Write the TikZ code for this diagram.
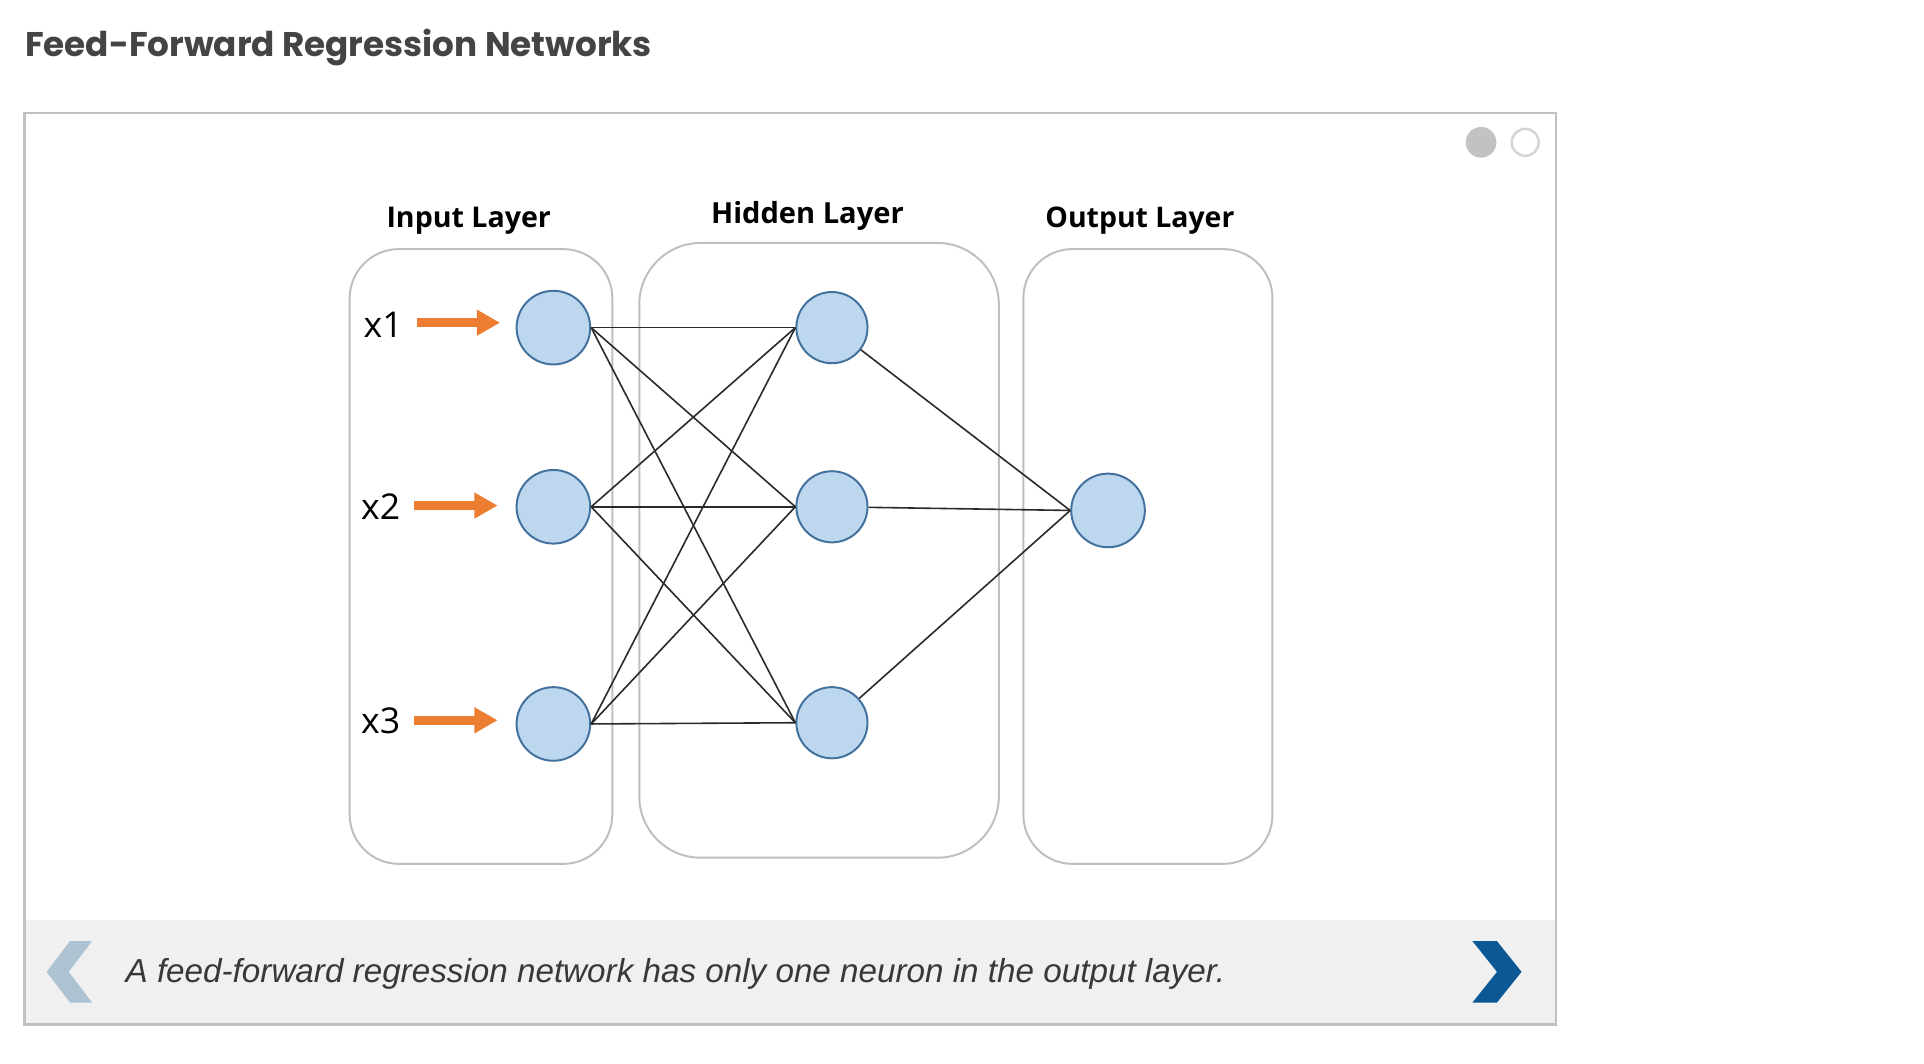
\documentclass[tikz,border=0pt]{standalone}
\usepackage{graphicx}
\usepackage{fontspec}
\setmainfont{Liberation Sans}
\newfontfamily\titlefont{Poppins}
\newfontfamily\labelfont{Open Sans}
\usetikzlibrary{arrows.meta}
\definecolor{titlegray}{HTML}{444444}
\definecolor{framegray}{HTML}{C0C0C0}
\definecolor{bargray}{HTML}{F0F0F0}
\definecolor{boxgray}{HTML}{BFBFBF}
\definecolor{nodefill}{HTML}{BDD7EE}
\definecolor{nodeedge}{HTML}{41719C}
\definecolor{arroworange}{HTML}{ED7D31}
\definecolor{linkgray}{HTML}{2A2A2A}
\definecolor{captiongray}{HTML}{383838}
\definecolor{chevlight}{HTML}{ADC3D2}
\definecolor{chevdark}{HTML}{0B5894}
\definecolor{dotgray}{HTML}{C2C2C2}
\definecolor{dotring}{HTML}{D4D4D4}
\tikzset{
  neuron/.style={circle, draw=nodeedge, fill=nodefill, line width=0.8pt, inner sep=0pt, minimum size=30pt},
  hneuron/.style={neuron, minimum size=29pt},
  layerbox/.style={draw=boxgray, line width=0.8pt},
  link/.style={draw=linkgray, line width=0.65pt},
  farrow/.style={draw=arroworange, line width=3.6pt, -{Triangle[length=9.5pt,width=10pt]}},
  layerlabel/.style={inner sep=0pt, anchor=base, text=black},
  xlabel/.style={inner sep=0pt, anchor=base west, text=black, font=\labelfont\fontsize{14.5}{14.5}\selectfont},
}
\begin{document}
\begin{tikzpicture}[x=0.5pt, y=-0.5pt]
\useasboundingbox (0,0) rectangle (1568,867.1);
\fill[white] (0,0) rectangle (1568,867.1);

% title
\node[inner sep=0pt, anchor=base west, text=titlegray] (title) at (20,46)
  {\resizebox{255.5pt}{!}{\titlefont\bfseries Feed-Forward Regression Networks}};

% frame and bottom bar
\fill[bargray] (20,750) rectangle (1268,835);
\draw[framegray, line width=1pt] (20,92) rectangle (1268,835);

% slide dots
\node[circle, fill=dotgray, inner sep=0pt, minimum size=12.5pt] (dotA) at (1207,116) {};
\node[circle, draw=dotring, line width=1pt, fill=white, inner sep=0pt, minimum size=11pt] (dotB) at (1243,116) {};

% chevrons
\fill[chevlight] (57,767) -- (75,767) -- (56,792) -- (75,817) -- (57,817) -- (38,792) -- cycle;
\fill[chevdark] (1200,767) -- (1220,767) -- (1240,792) -- (1220,817) -- (1200,817) -- (1220,792) -- cycle;

% caption
\node[inner sep=0pt, anchor=base west, text=captiongray] (caption) at (102,801)
  {\resizebox{448pt}{!}{\itshape A feed-forward regression network has only one neuron in the output layer.}};

% layer boxes
\draw[layerbox, rounded corners=20pt] (285,203) rectangle (499,704);
\draw[layerbox, rounded corners=25pt] (521,198) rectangle (814,699);
\draw[layerbox, rounded corners=20pt] (834,203) rectangle (1037,704);

% layer labels
\node[layerlabel] (lin) at (382,185) {\resizebox{67pt}{!}{\labelfont\bfseries Input Layer}};
\node[layerlabel] (lhid) at (658,182) {\resizebox{78.5pt}{!}{\labelfont\bfseries Hidden Layer}};
\node[layerlabel] (lout) at (929,185) {\resizebox{77pt}{!}{\labelfont\bfseries Output Layer}};

% neurons
\node[neuron] (i1) at (451,267) {};
\node[neuron] (i2) at (451,413) {};
\node[neuron] (i3) at (451,590) {};
\node[hneuron] (h1) at (678,267) {};
\node[hneuron] (h2) at (678,413) {};
\node[hneuron] (h3) at (678,589) {};
\node[neuron] (o) at (903,416) {};

% input labels
\node[xlabel] (x1) at (296,275) {x1};
\node[xlabel] (x2) at (294,423) {x2};
\node[xlabel] (x3) at (294,598) {x3};

% input arrows
\draw[farrow] ([xshift=5.5pt]x1.east |- i1.center) ++(0,-4) -- ++(68,0);
\draw[farrow] ([xshift=5.5pt]x2.east |- i2.center) ++(0,-1) -- ++(68,0);
\draw[farrow] ([xshift=5.5pt]x3.east |- i3.center) ++(0,-3) -- ++(68,0);

% connections input -> hidden
\foreach \a in {1,2,3}{
  \foreach \b in {1,2,3}{
    \draw[link] (i\a.east) -- (h\b.west);
  }
}
% connections hidden -> output
\foreach \b in {1,2,3}{
  \draw[link] (h\b) -- (o.west);
}
\end{tikzpicture}
\end{document}
